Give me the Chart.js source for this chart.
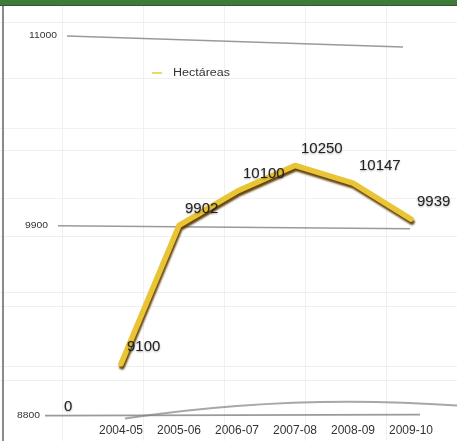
<!DOCTYPE html>
<html>
<head>
<meta charset="utf-8">
<script src="https://cdn.jsdelivr.net/npm/chart.js@4.4.1/dist/chart.umd.min.js"></script>
<style>
  html, body { margin: 0; padding: 0; background: #fff; }
  #wrap {
    position: relative; width: 457px; height: 441px; overflow: hidden;
    background:
      linear-gradient(#efefef, #efefef) 0 22px / 100% 1px no-repeat,
      linear-gradient(#efefef, #efefef) 0 78px / 100% 1px no-repeat,
      linear-gradient(#f1f1f1, #f1f1f1) 0 128px / 100% 1px no-repeat,
      linear-gradient(#efefef, #efefef) 0 150px / 100% 1px no-repeat,
      linear-gradient(#f1f1f1, #f1f1f1) 0 198px / 100% 1px no-repeat,
      linear-gradient(#efefef, #efefef) 0 236px / 100% 1px no-repeat,
      linear-gradient(#efefef, #efefef) 0 292px / 100% 1px no-repeat,
      linear-gradient(#efefef, #efefef) 0 306px / 100% 1px no-repeat,
      linear-gradient(#efefef, #efefef) 0 366px / 100% 1px no-repeat,
      linear-gradient(#efefef, #efefef) 0 380px / 100% 1px no-repeat,
      repeating-linear-gradient(90deg, transparent 0 62px, #f0f0f0 62px 63px, transparent 63px 81px);
  }
  #top { position: absolute; left: 0; top: 0; width: 457px; height: 5px; background: #3f7a38; border-bottom: 1px solid #2c5a28; z-index: 2; }
  #side { position: absolute; left: 2px; top: 6px; width: 2px; height: 435px; background: #8a8a8a; z-index: 2; }
  canvas { position: absolute; left: 0; top: 0; }
</style>
</head>
<body>
<div id="wrap">
  <div id="top"></div>
  <div id="side"></div>
  <canvas id="chart" width="457" height="441"></canvas>
</div>
<script>
const seasons = ["2004-05", "2005-06", "2006-07", "2007-08", "2008-09", "2009-10"];
const hectares = [9100, 9902, 10100, 10250, 10147, 9939];
const yTicks = [11000, 9900, 8800];
const seriesName = "Hectáreas";
const baseLabel = "0";

const FONT = "'Liberation Sans', Arial, sans-serif";

// slanted "3D" gridlines: [xStart, xEnd, yDrop at end, label right edge]
const gridStyle = {
  11000: [67, 403, 11, 57],
  9900: [58, 410, 3, 48],
  8800: [45, 420, -1, 40],
};

function stretchedText(ctx, text, x, y, sx) {
  ctx.save();
  ctx.translate(x, y);
  ctx.scale(sx, 1);
  ctx.fillText(text, 0, 0);
  ctx.restore();
}

const decoPlugin = {
  id: "deco",
  beforeDatasetsDraw(chart) {
    const ctx = chart.ctx;
    const y = chart.scales.y;
    ctx.save();
    yTicks.forEach((v) => {
      const s = gridStyle[v];
      const py = y.getPixelForValue(v);
      ctx.strokeStyle = "rgba(120,120,120,0.75)";
      ctx.lineWidth = 1.6;
      ctx.beginPath();
      ctx.moveTo(s[0], py);
      ctx.lineTo(s[1], py + s[2]);
      ctx.stroke();
      ctx.fillStyle = "#333";
      ctx.font = "9px " + FONT;
      ctx.textAlign = "right";
      ctx.textBaseline = "middle";
      stretchedText(ctx, String(v), s[3], py, 1.15);
    });
    // curved floor edge
    const pb = y.getPixelForValue(8800);
    ctx.strokeStyle = "rgba(130,130,130,0.7)";
    ctx.lineWidth = 2;
    ctx.beginPath();
    ctx.moveTo(125, pb + 3);
    ctx.quadraticCurveTo(290, pb - 22, 457, pb - 10);
    ctx.stroke();
    ctx.restore();
  },
  beforeDatasetDraw(chart) {
    const ctx = chart.ctx;
    ctx.save();
    ctx.shadowColor = "rgba(95,60,0,0.95)";
    ctx.shadowBlur = 2;
    ctx.shadowOffsetY = 3;
    ctx.shadowOffsetX = 1;
  },
  afterDatasetDraw(chart) {
    chart.ctx.restore();
  },
  afterDatasetsDraw(chart) {
    const ctx = chart.ctx;
    const meta = chart.getDatasetMeta(0);
    ctx.save();
    ctx.font = "15px " + FONT;
    ctx.fillStyle = "#222";
    ctx.textAlign = "left";
    ctx.textBaseline = "middle";
    ctx.shadowColor = "rgba(0,0,0,0.35)";
    ctx.shadowBlur = 2;
    ctx.shadowOffsetY = 1;
    meta.data.forEach((pt, i) => {
      ctx.fillText(hectares[i], pt.x + 6, pt.y - 17);
    });
    ctx.fillText(baseLabel, 64, chart.scales.y.getPixelForValue(8800) - 9);
    ctx.shadowColor = "transparent";
    // legend
    ctx.strokeStyle = "#f0d66a";
    ctx.lineWidth = 2;
    ctx.beginPath();
    ctx.moveTo(152, 73);
    ctx.lineTo(162, 73);
    ctx.stroke();
    ctx.font = "10px " + FONT;
    ctx.fillStyle = "#333";
    stretchedText(ctx, chart.data.datasets[0].label, 173, 73, 1.25);
    ctx.restore();
  },
};

new Chart(document.getElementById("chart"), {
  type: "line",
  data: {
    labels: seasons,
    datasets: [
      {
        label: seriesName,
        data: hectares,
        borderColor: "#e9c435",
        borderWidth: 5.5,
        pointRadius: 0,
        tension: 0,
        borderJoinStyle: "round",
        borderCapStyle: "round",
      },
    ],
  },
  options: {
    responsive: false,
    animation: false,
    layout: { padding: { left: 92, right: 17, top: 36, bottom: -5 } },
    plugins: { legend: { display: false }, tooltip: { enabled: false } },
    scales: {
      x: {
        offset: true,
        grid: { display: false, drawTicks: false, tickLength: 0 },
        border: { display: false },
        ticks: { color: "#333", font: { size: 12, family: FONT }, padding: 8, maxRotation: 0, autoSkip: false },
      },
      y: {
        display: false,
        min: 8800,
        max: 11000,
      },
    },
  },
  plugins: [decoPlugin],
});
</script>
</body>
</html>
